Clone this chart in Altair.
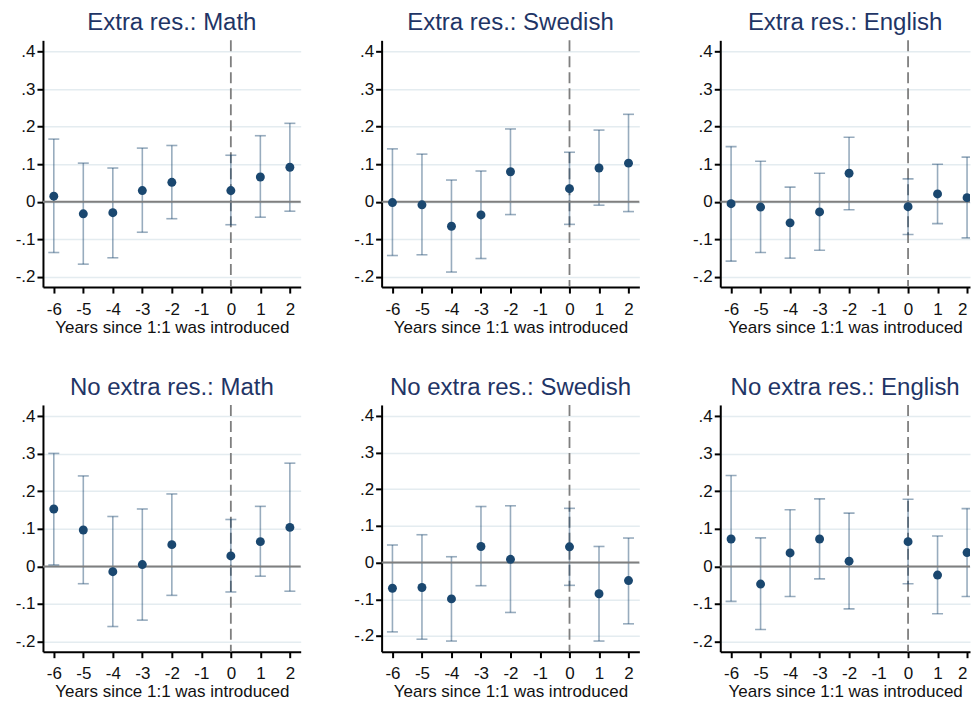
import altair as alt
import pandas as pd

panels = ["Extra res.: Math", "Extra res.: Swedish", "Extra res.: English",
          "No extra res.: Math", "No extra res.: Swedish", "No extra res.: English"]
years = [-6, -5, -4, -3, -2, 0, 1, 2]

est_1 = [0.015, -0.032, -0.029, 0.030, 0.052, 0.030, 0.066, 0.092]
lo_1 = [-0.135, -0.166, -0.149, -0.081, -0.045, -0.061, -0.041, -0.025]
hi_1 = [0.167, 0.103, 0.090, 0.143, 0.150, 0.124, 0.176, 0.209]

est_2 = [-0.002, -0.008, -0.065, -0.035, 0.080, 0.035, 0.090, 0.103]
lo_2 = [-0.143, -0.141, -0.187, -0.151, -0.034, -0.060, -0.009, -0.026]
hi_2 = [0.141, 0.127, 0.058, 0.082, 0.194, 0.132, 0.191, 0.233]

est_3 = [-0.005, -0.014, -0.056, -0.027, 0.076, -0.013, 0.021, 0.011]
lo_3 = [-0.158, -0.135, -0.150, -0.129, -0.021, -0.087, -0.058, -0.096]
hi_3 = [0.147, 0.108, 0.039, 0.076, 0.172, 0.061, 0.100, 0.119]

est_4 = [0.153, 0.097, -0.014, 0.005, 0.058, 0.028, 0.066, 0.104]
lo_4 = [0.004, -0.046, -0.160, -0.143, -0.077, -0.068, -0.026, -0.066]
hi_4 = [0.301, 0.241, 0.133, 0.153, 0.193, 0.125, 0.160, 0.275]

est_5 = [-0.070, -0.068, -0.099, 0.044, 0.009, 0.043, -0.085, -0.049]
lo_5 = [-0.189, -0.209, -0.214, -0.063, -0.136, -0.062, -0.214, -0.167]
hi_5 = [0.048, 0.076, 0.016, 0.153, 0.155, 0.148, 0.044, 0.067]

est_6 = [0.073, -0.047, 0.036, 0.073, 0.014, 0.066, -0.023, 0.037]
lo_6 = [-0.093, -0.168, -0.080, -0.033, -0.113, -0.046, -0.126, -0.080]
hi_6 = [0.242, 0.076, 0.151, 0.180, 0.142, 0.179, 0.081, 0.154]

ests = [est_1, est_2, est_3, est_4, est_5, est_6]
los = [lo_1, lo_2, lo_3, lo_4, lo_5, lo_6]
his = [hi_1, hi_2, hi_3, hi_4, hi_5, hi_6]

x_ticks = [-6, -5, -4, -3, -2, -1, 0, 1, 2]
x_labels = ["-6", "-5", "-4", "-3", "-2", "-1", "0", "1", "2"]
y_ticks = [-0.2, -0.1, 0, 0.1, 0.2, 0.3, 0.4]
y_labels = ["-.2", "-.1", "0", ".1", ".2", ".3", ".4"]
x_title = "Years since 1:1 was introduced"

NAVY = "#1a476f"
FONT = "Liberation Sans"


def label_expr(values, labels):
    expr = "''"
    for v, lab in zip(reversed(values), reversed(labels)):
        expr = f"abs(datum.value - ({v})) < 1e-6 ? '{lab}' : ({expr})"
    return expr


def make_panel(i):
    col = i % 3
    df = pd.DataFrame({"t": years, "est": ests[i], "lo": los[i], "hi": his[i]})
    one = pd.DataFrame({"v": [0]})
    if col == 2:
        xdom = [-6.367, 2.10]
        width = 250
    else:
        xdom = [-6.367, 2.367]
        width = 258
    ydom = [-0.243, 0.43] if i == 4 else [-0.227, 0.43]
    clip = col == 2

    xsc = alt.Scale(domain=xdom, nice=False, zero=False, padding=0)
    ysc = alt.Scale(domain=ydom, nice=False, zero=False, padding=0)
    xax = alt.Axis(values=x_ticks, labelExpr=label_expr(x_ticks, x_labels),
                   title=x_title, grid=False, labelPadding=8, titlePadding=2,
                   labelOverlap=False, labelSeparation=0,
                   labelFlush=5 if col == 2 else False)
    yax = alt.Axis(values=y_ticks, labelExpr=label_expr(y_ticks, y_labels),
                   title=None, grid=True, gridColor="#e4ecf0", gridWidth=1.5,
                   labelPadding=2, labelOverlap=False)

    def X(f):
        return alt.X(f, scale=xsc, axis=xax)

    def Y(f):
        return alt.Y(f, scale=ysc, axis=yax)

    vline = alt.Chart(one).mark_rule(color="#7f7f7f", strokeWidth=1.8,
                                      strokeDash=[11, 5]).encode(x=X("v:Q"))
    zero = alt.Chart(one).mark_rule(color="#7f7f7f", strokeWidth=2).encode(y=Y("v:Q"))
    ci = alt.Chart(df).mark_rule(color=NAVY, opacity=0.45, strokeWidth=1.6, clip=clip).encode(
        x=X("t:Q"), y=Y("lo:Q"), y2="hi:Q",
    )
    cap_lo = alt.Chart(df).mark_tick(orient="horizontal", size=11, thickness=1.6,
                                      color=NAVY, opacity=0.45, clip=clip).encode(
        x=X("t:Q"), y=Y("lo:Q"))
    cap_hi = alt.Chart(df).mark_tick(orient="horizontal", size=11, thickness=1.6,
                                      color=NAVY, opacity=0.45, clip=clip).encode(
        x=X("t:Q"), y=Y("hi:Q"))
    pts = alt.Chart(df).mark_circle(size=80, color=NAVY, opacity=1, clip=clip).encode(
        x=X("t:Q"), y=Y("est:Q"))

    return alt.layer(vline, ci, zero, cap_lo, cap_hi, pts).properties(
        width=width, height=247,
        title=alt.TitleParams(panels[i], fontSize=24, font=FONT, color="#1f3566",
                              fontWeight="normal", anchor="middle", frame="group",
                              offset=4),
    )


charts = [make_panel(i) for i in range(6)]

chart = alt.ConcatChart(
    concat=charts, columns=3, spacing={"row": 118, "column": 81}, bounds="flush"
).properties(
    padding={"left": 7, "top": 3, "right": 0, "bottom": 0},
    background="white",
).configure_view(stroke=None).configure_axis(
    domainColor="black", domainWidth=2, tickColor="black", tickWidth=2, tickSize=6,
    labelFont=FONT, labelFontSize=17, labelColor="#111111",
    titleFont=FONT, titleFontSize=17, titleFontWeight="normal", titleColor="#111111",
    labelOverlap=False,
)

chart.save("out.html", embed_options={"renderer": "svg", "actions": False})
